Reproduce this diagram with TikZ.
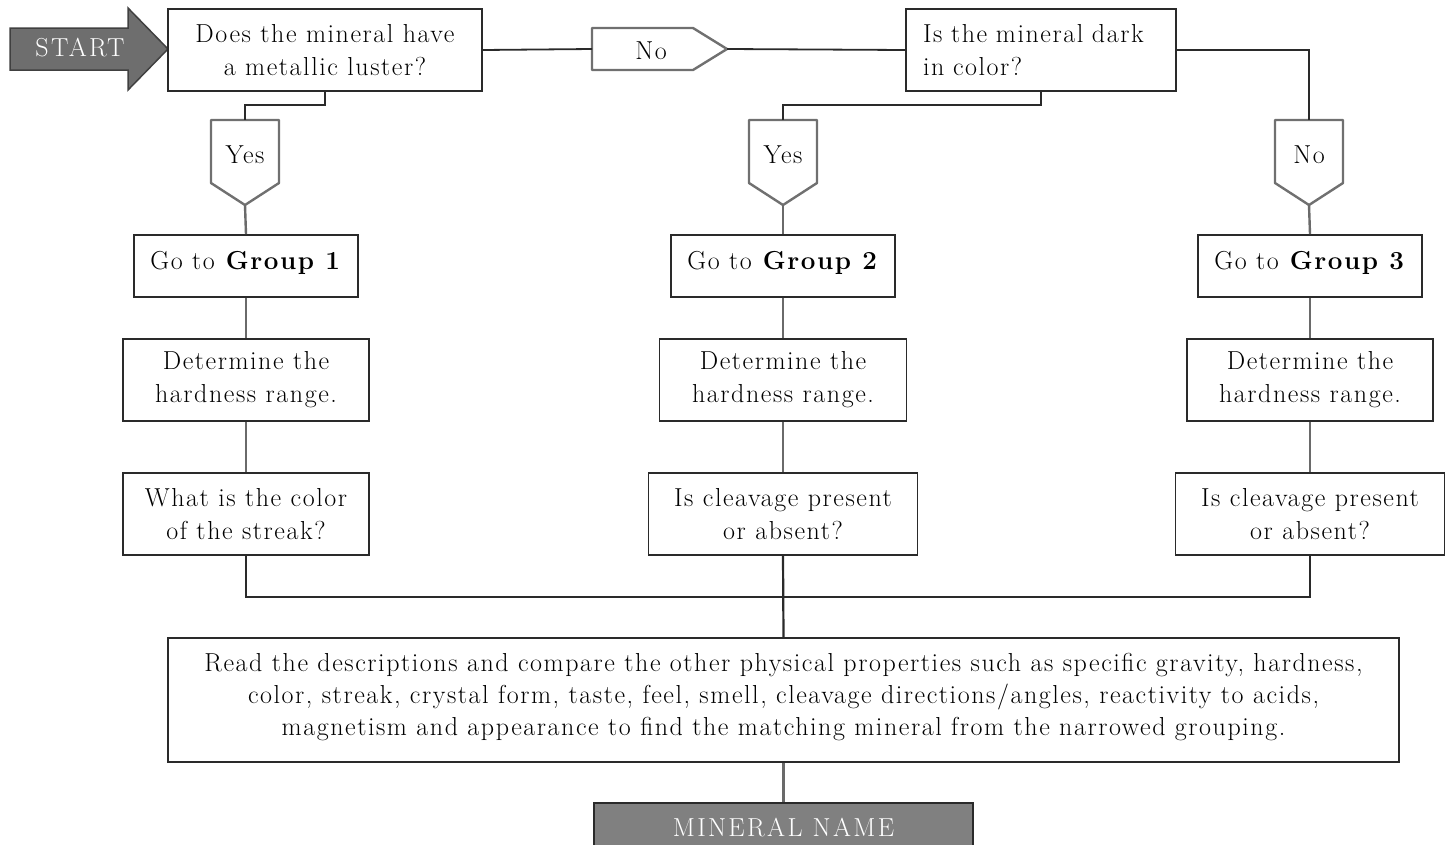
\documentclass[tikz,border=0pt]{standalone}
\usepackage{fontspec}
\setmainfont{Latin Modern Roman}[LetterSpace=6]
\newfontfamily\capsfont{Latin Modern Roman}[LetterSpace=9]
\definecolor{boxc}{HTML}{2A2A2A}
\definecolor{linec}{HTML}{6A6A6A}
\definecolor{tagc}{HTML}{707070}
\definecolor{startfill}{HTML}{6E6E6E}
\definecolor{namefill}{HTML}{808080}
\newcommand{\liftup}[2]{\raisebox{#1}[\height][\depth]{#2}}
\begin{document}
\begin{tikzpicture}[x=1pt,y=-1pt,
  every node/.style={font=\fontsize{26}{33}\selectfont},
  box/.style={draw=boxc,line width=1.8pt,fill=white,align=center,inner sep=0pt},
  tag/.style={draw=tagc,line width=2.4pt,fill=white,line join=round},
  elbow/.style={draw=boxc,line width=1.8pt},
  vline/.style={draw=linec,line width=2.4pt},
  lbl/.style={inner sep=0pt}]
\useasboundingbox (0,0) rectangle (1448,844);

% START arrow
\draw[draw=black!75,line width=1.5pt,fill=startfill]
  (10,28) -- (128,28) -- (128,8) -- (168,49) -- (128,90) -- (128,70) -- (10,70) -- cycle;
\node[lbl,text=white,font=\capsfont\fontsize{26}{33}\selectfont] (start) at (80,48) {START};

% top boxes
\node[box,minimum width=314pt,minimum height=82pt] (q0) at (325,50)
  {Does the mineral have\\a metallic luster?};
\node[box,minimum width=270pt,minimum height=82pt,text width=236pt,align=left,inner xsep=17pt] (qd) at (1041,50)
  {Is the mineral dark\\in color?};

% No tag (horizontal)
\draw[tag] (592,28) -- (693,28) -- (727,49) -- (693,70) -- (592,70) -- cycle;
\coordinate (noL) at (592,49);
\coordinate (noR) at (727,49);
\node[lbl] (no1) at (651,51) {No};

% vertical tags
\draw[tag] (211,120) -- (279,120) -- (279,183) -- (245,205) -- (211,183) -- cycle;
\coordinate (y1t) at (245,120); \coordinate (y1b) at (245,205);
\node[lbl] (yes1) at (245,155) {Yes};

\draw[tag] (749,120) -- (817,120) -- (817,183) -- (783,205) -- (749,183) -- cycle;
\coordinate (y2t) at (783,120); \coordinate (y2b) at (783,205);
\node[lbl] (yes2) at (783,155) {Yes};

\draw[tag] (1275,120) -- (1343,120) -- (1343,183) -- (1309,205) -- (1275,183) -- cycle;
\coordinate (n2t) at (1309,120); \coordinate (n2b) at (1309,205);
\node[lbl] (no2) at (1309,155) {No};

% group boxes
\node[box,minimum width=224pt,minimum height=62pt] (g1) at (246,266) {\liftup{3pt}{Go to \textbf{Group 1}}};
\node[box,minimum width=224pt,minimum height=62pt] (g2) at (783,266) {\liftup{3pt}{Go to \textbf{Group 2}}};
\node[box,minimum width=224pt,minimum height=62pt] (g3) at (1310,266) {\liftup{3pt}{Go to \textbf{Group 3}}};

% hardness boxes
\node[box,minimum width=246pt,minimum height=82pt] (h1) at (246,380) {Determine the\\hardness range.};
\node[box,minimum width=247pt,minimum height=82pt] (h2) at (783,380) {Determine the\\hardness range.};
\node[box,minimum width=246pt,minimum height=82pt] (h3) at (1310,380) {Determine the\\hardness range.};

% question boxes
\node[box,minimum width=246pt,minimum height=82pt] (s1) at (246,514) {What is the color\\of the streak?};
\node[box,minimum width=269pt,minimum height=82pt] (c2) at (783,514) {Is cleavage present\\or absent?};
\node[box,minimum width=269pt,minimum height=82pt] (c3) at (1310,514) {Is cleavage present\\or absent?};

% big box
\node[box,minimum width=1231pt,minimum height=124pt,font=\fontsize{26}{32}\selectfont] (big) at (783.5,700)
  {\liftup{3pt}{\parbox{1200pt}{\centering
   Read the descriptions and compare the other physical properties such as specific gravity, hardness,\\
   color, streak, crystal form, taste, feel, smell, cleavage directions/angles, reactivity to acids,\\
   magnetism and appearance to find the matching mineral from the narrowed grouping.}}};

% mineral name
\node[draw=boxc,line width=1.8pt,fill=namefill,text=white,minimum width=379pt,minimum height=50pt,inner sep=0pt,font=\capsfont\fontsize{26}{33}\selectfont] (name) at (783.5,828)
  {MINERAL NAME};

% connectors
\draw[elbow] (q0.east) -- (noL);
\draw[elbow] (noR) -- (qd.west);
\draw[elbow] (qd.east) -| (n2t);
\draw[elbow] (q0.south) -- ++(0,13) -| (y1t);
\draw[elbow] (qd.south) -- ++(0,13) -| (y2t);
\draw[vline] (y1b) -- (g1.north);
\draw[vline] (y2b) -- (g2.north);
\draw[vline] (n2b) -- (g3.north);
\draw[vline] (g1.south) -- (h1.north);
\draw[vline] (g2.south) -- (h2.north);
\draw[vline] (g3.south) -- (h3.north);
\draw[vline] (h1.south) -- (s1.north);
\draw[vline] (h2.south) -- (c2.north);
\draw[vline] (h3.south) -- (c3.north);
\draw[elbow] (s1.south) |- (1310,597) -- (c3.south);
\draw[elbow,line width=2.2pt] (c2.south) -- (big.north);
\draw[vline] (big.south) -- (name.north);
\end{tikzpicture}
\end{document}
